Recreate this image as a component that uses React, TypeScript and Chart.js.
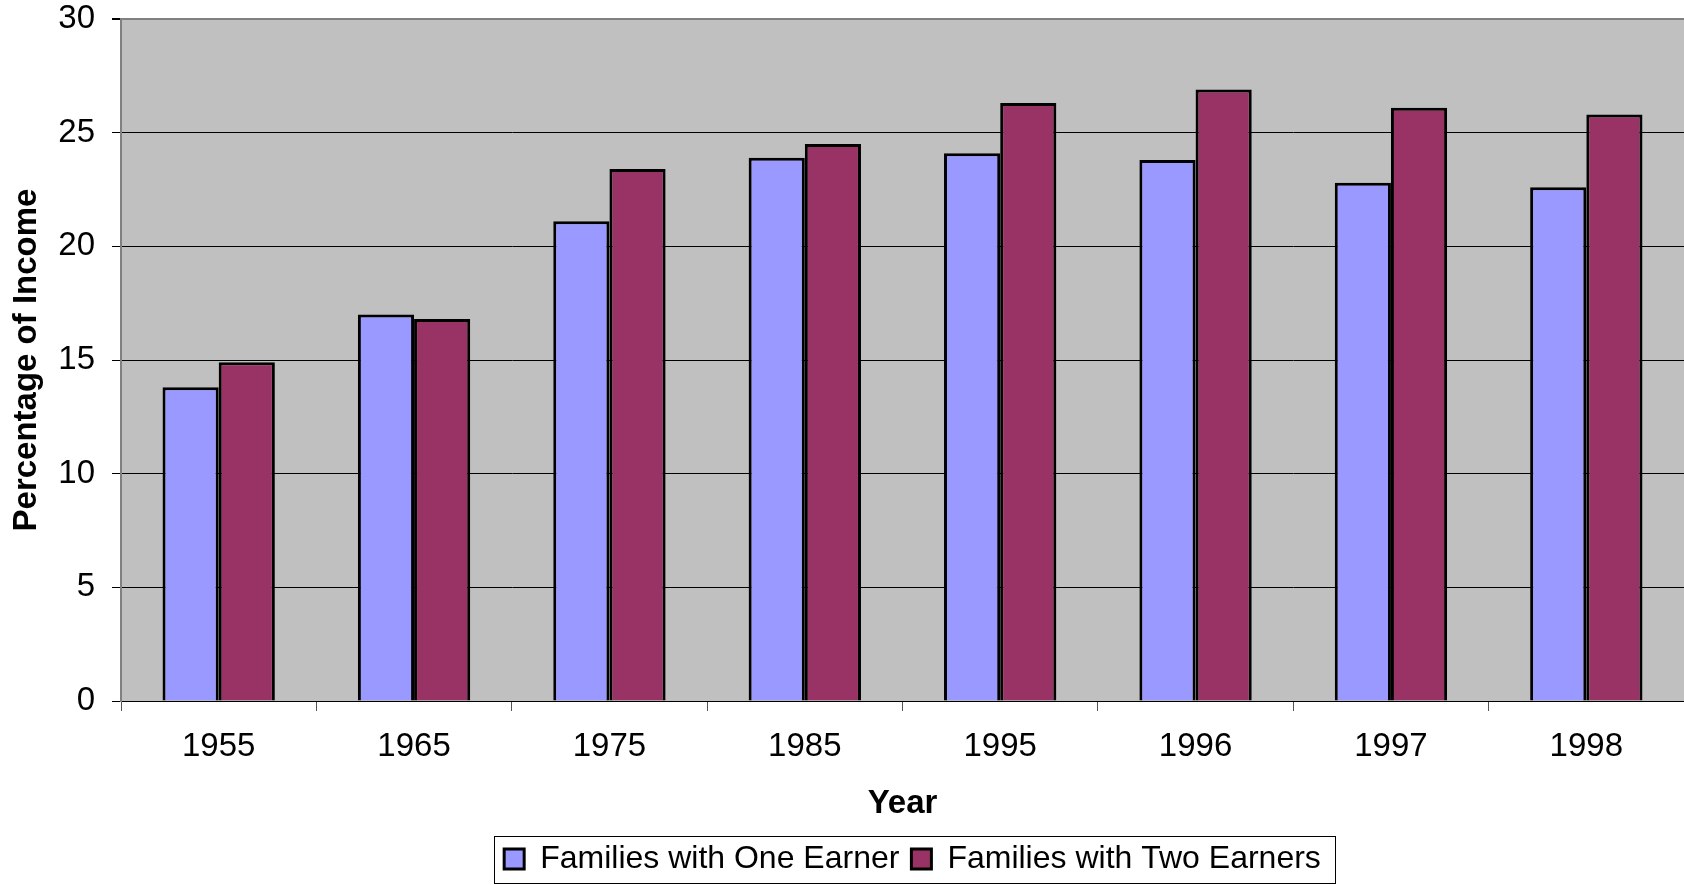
import React, { useEffect, useRef } from "react";
import { Chart, registerables } from "chart.js";

Chart.register(...registerables);

const years = ["1955", "1965", "1975", "1985", "1995", "1996", "1997", "1998"];
const oneEarner = [13.8, 17.0, 21.1, 23.9, 24.1, 23.8, 22.8, 22.6];
const twoEarners = [14.9, 16.8, 23.4, 24.5, 26.3, 26.9, 26.1, 25.8];
const seriesNames = ["Families with One Earner", "Families with Two Earners"];

const FONT = "'Liberation Sans', Arial, sans-serif";
const FS = 33;
const LEGEND_FS = 32;

const plotBg = {
  id: "plotBg",
  beforeDraw(chart: any) {
    const { ctx, chartArea } = chart;
    ctx.save();
    ctx.fillStyle = "#C0C0C0";
    ctx.fillRect(chartArea.left, chartArea.top, chartArea.right - chartArea.left, chartArea.bottom - chartArea.top);
    ctx.restore();
  },
};

const legendShift = {
  id: "legendShift",
  afterLayout(chart: any) {
    const lg = chart.legend;
    if (!lg) return;
    const ca = chart.chartArea;
    const target = (ca.left + ca.right) / 2 + 10;
    const cur = (lg.left + lg.right) / 2;
    const d = target - cur;
    lg.left += d;
    lg.right += d;
  },
  afterDraw(chart: any) {
    const lg = chart.legend;
    if (!lg || !lg.legendHitBoxes || !lg.legendHitBoxes.length) return;
    const hb = lg.legendHitBoxes;
    let l = Infinity, r = -Infinity, t = Infinity, b = -Infinity;
    hb.forEach((h: any) => {
      l = Math.min(l, h.left);
      r = Math.max(r, h.left + h.width);
      t = Math.min(t, h.top);
      b = Math.max(b, h.top + h.height);
    });
    const { ctx } = chart;
    ctx.save();
    ctx.strokeStyle = "#000";
    ctx.lineWidth = 1;
    const top = Math.round(t + (b - t) / 2 - 23) + 0.5;
    ctx.strokeRect(Math.round(l - 10) + 0.5, top, Math.round(r - l + 24), 47);
    ctx.restore();
  },
};

export default function App() {
  const ref = useRef<HTMLCanvasElement | null>(null);
  useEffect(() => {
    if (!ref.current) return;
    const chart = new Chart(ref.current, {
      type: "bar",
      data: {
        labels: years,
        datasets: [
          {
            label: seriesNames[0],
            data: oneEarner,
            backgroundColor: "#9999FF",
            borderColor: "#000000",
            borderWidth: 3,
            barPercentage: 1,
            categoryPercentage: 0.575,
          },
          {
            label: seriesNames[1],
            data: twoEarners,
            backgroundColor: "#993366",
            borderColor: "#000000",
            borderWidth: 3,
            barPercentage: 1,
            categoryPercentage: 0.575,
          },
        ],
      },
      options: {
        responsive: false,
        animation: false,
        maintainAspectRatio: false,
        layout: { padding: { left: 0, right: 0, top: 0, bottom: 0 } },
        plugins: {
          tooltip: { enabled: false },
          legend: {
            position: "bottom",
            labels: {
              font: { family: FONT, size: LEGEND_FS },
              color: "#000",
              boxWidth: 20,
              boxHeight: 20,
              padding: 12,
            },
          },
        },
        scales: {
          x: {
            offset: true,
            afterFit: (s: any) => {
              s.height = 130;
            },
            grid: {
              offset: true,
              drawOnChartArea: false,
              drawTicks: true,
              tickLength: 10,
              tickColor: "#555",
            },
            border: { display: true, color: "#000", width: 1 },
            ticks: {
              font: { family: FONT, size: FS },
              color: "#000",
              padding: 16,
              maxRotation: 0,
            },
            title: {
              display: true,
              text: "Year",
              font: { family: FONT, size: FS, weight: "bold" },
              color: "#000",
              padding: { top: 0, bottom: 7 },
            },
          },
          y: {
            min: 0,
            max: 30,
            afterFit: (s: any) => {
              s.width = 121;
              s.paddingTop = 19;
              s.paddingBottom = 10;
            },
            ticks: {
              stepSize: 5,
              font: { family: FONT, size: FS },
              color: "#000",
              padding: 17,
            },
            grid: {
              color: (c: any) => (c.tick && c.tick.value === 30 ? "#808080" : "#000"),
              lineWidth: (c: any) => (c.tick && c.tick.value === 30 ? 2 : 1),
              drawTicks: true,
              tickLength: 9,
              tickColor: "#000",
            },
            border: { display: true, color: "#808080", width: 2 },
            title: {
              display: true,
              text: "Percentage of Income",
              font: { family: FONT, size: FS, weight: "bold" },
              color: "#000",
              padding: { top: 7, bottom: 0 },
            },
          },
        },
      },
      plugins: [plotBg, legendShift],
    });
    return () => chart.destroy();
  }, []);
  return (
    <div style={{ position: "fixed", left: 0, top: 0, width: 1684, height: 885, background: "#fff" }}>
      <canvas ref={ref} width={1684} height={885} style={{ display: "block" }} />
    </div>
  );
}
